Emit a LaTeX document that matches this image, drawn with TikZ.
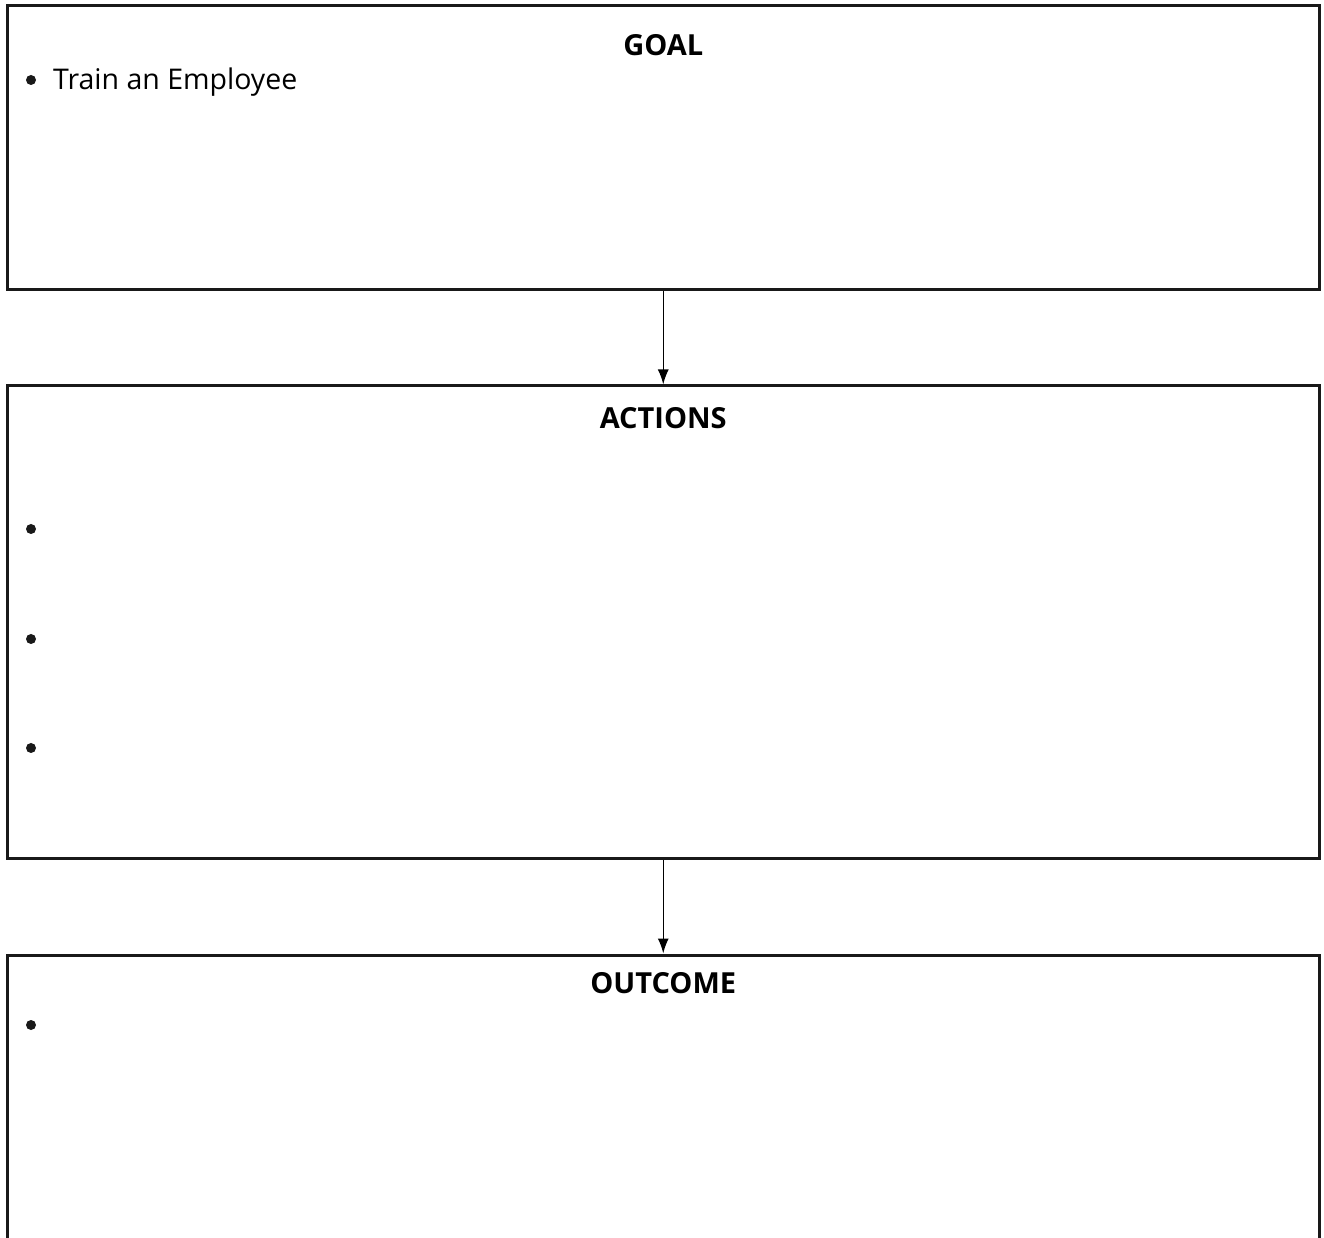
\documentclass[tikz,border=0pt]{standalone}
\usepackage{fontspec}
\setmainfont{Open Sans}
\usepackage{tikz}
\usetikzlibrary{calc,arrows.meta}

\tikzset{
    panel/.style={draw=black!90, line width=3pt, minimum width=1312pt, inner sep=0pt},
    title/.style={anchor=base, inner sep=0pt, font=\fontsize{29}{34}\selectfont\bfseries},
    item/.style={anchor=base west, inner sep=0pt, font=\fontsize{28.5}{34}\selectfont},
    dot/.style={circle, fill=black!90, minimum size=10pt, inner sep=0pt}
}

\begin{document}
\begin{tikzpicture}[x=1pt,y=1pt]
        \useasboundingbox (0,0) rectangle (1324,1237);
        \clip (0,0) rectangle (1324,1237);
        % boxes
        \node[panel, minimum height=284pt] (goal) at (663.25,1089) {};
        \node[panel, minimum height=473pt] (actions) at (663.25,614.5) {};
        \node[panel, minimum height=345pt] (outcome) at (663.25,109.5) {};
        % headings
        \node[title] (goalhead) at ($(goal.north)+(0,-51)$) {GOAL};
        \node[title] (actionshead) at ($(actions.north)+(0,-44)$) {ACTIONS};
        \node[title] (outcomehead) at ($(outcome.north)+(0,-40)$) {OUTCOME};
        % bullets
        \node[dot] (g1) at (31,1157) {};
        \node[item] (gtext) at (53,1147) {Train an Employee};
        \foreach \y [count=\i] in {708,598,489}
        \node[dot] (a\i) at (31,\y) {};
        \node[dot] (o1) at (31,212) {};
        % arrows
        \draw[line width=1.5pt, -{Latex[length=15pt,width=11pt]}] (goal.south) -- (actions.north);
        \draw[line width=1.5pt, -{Latex[length=15pt,width=11pt]}] (actions.south) -- (outcome.north);
    \end{tikzpicture}
\end{document}
